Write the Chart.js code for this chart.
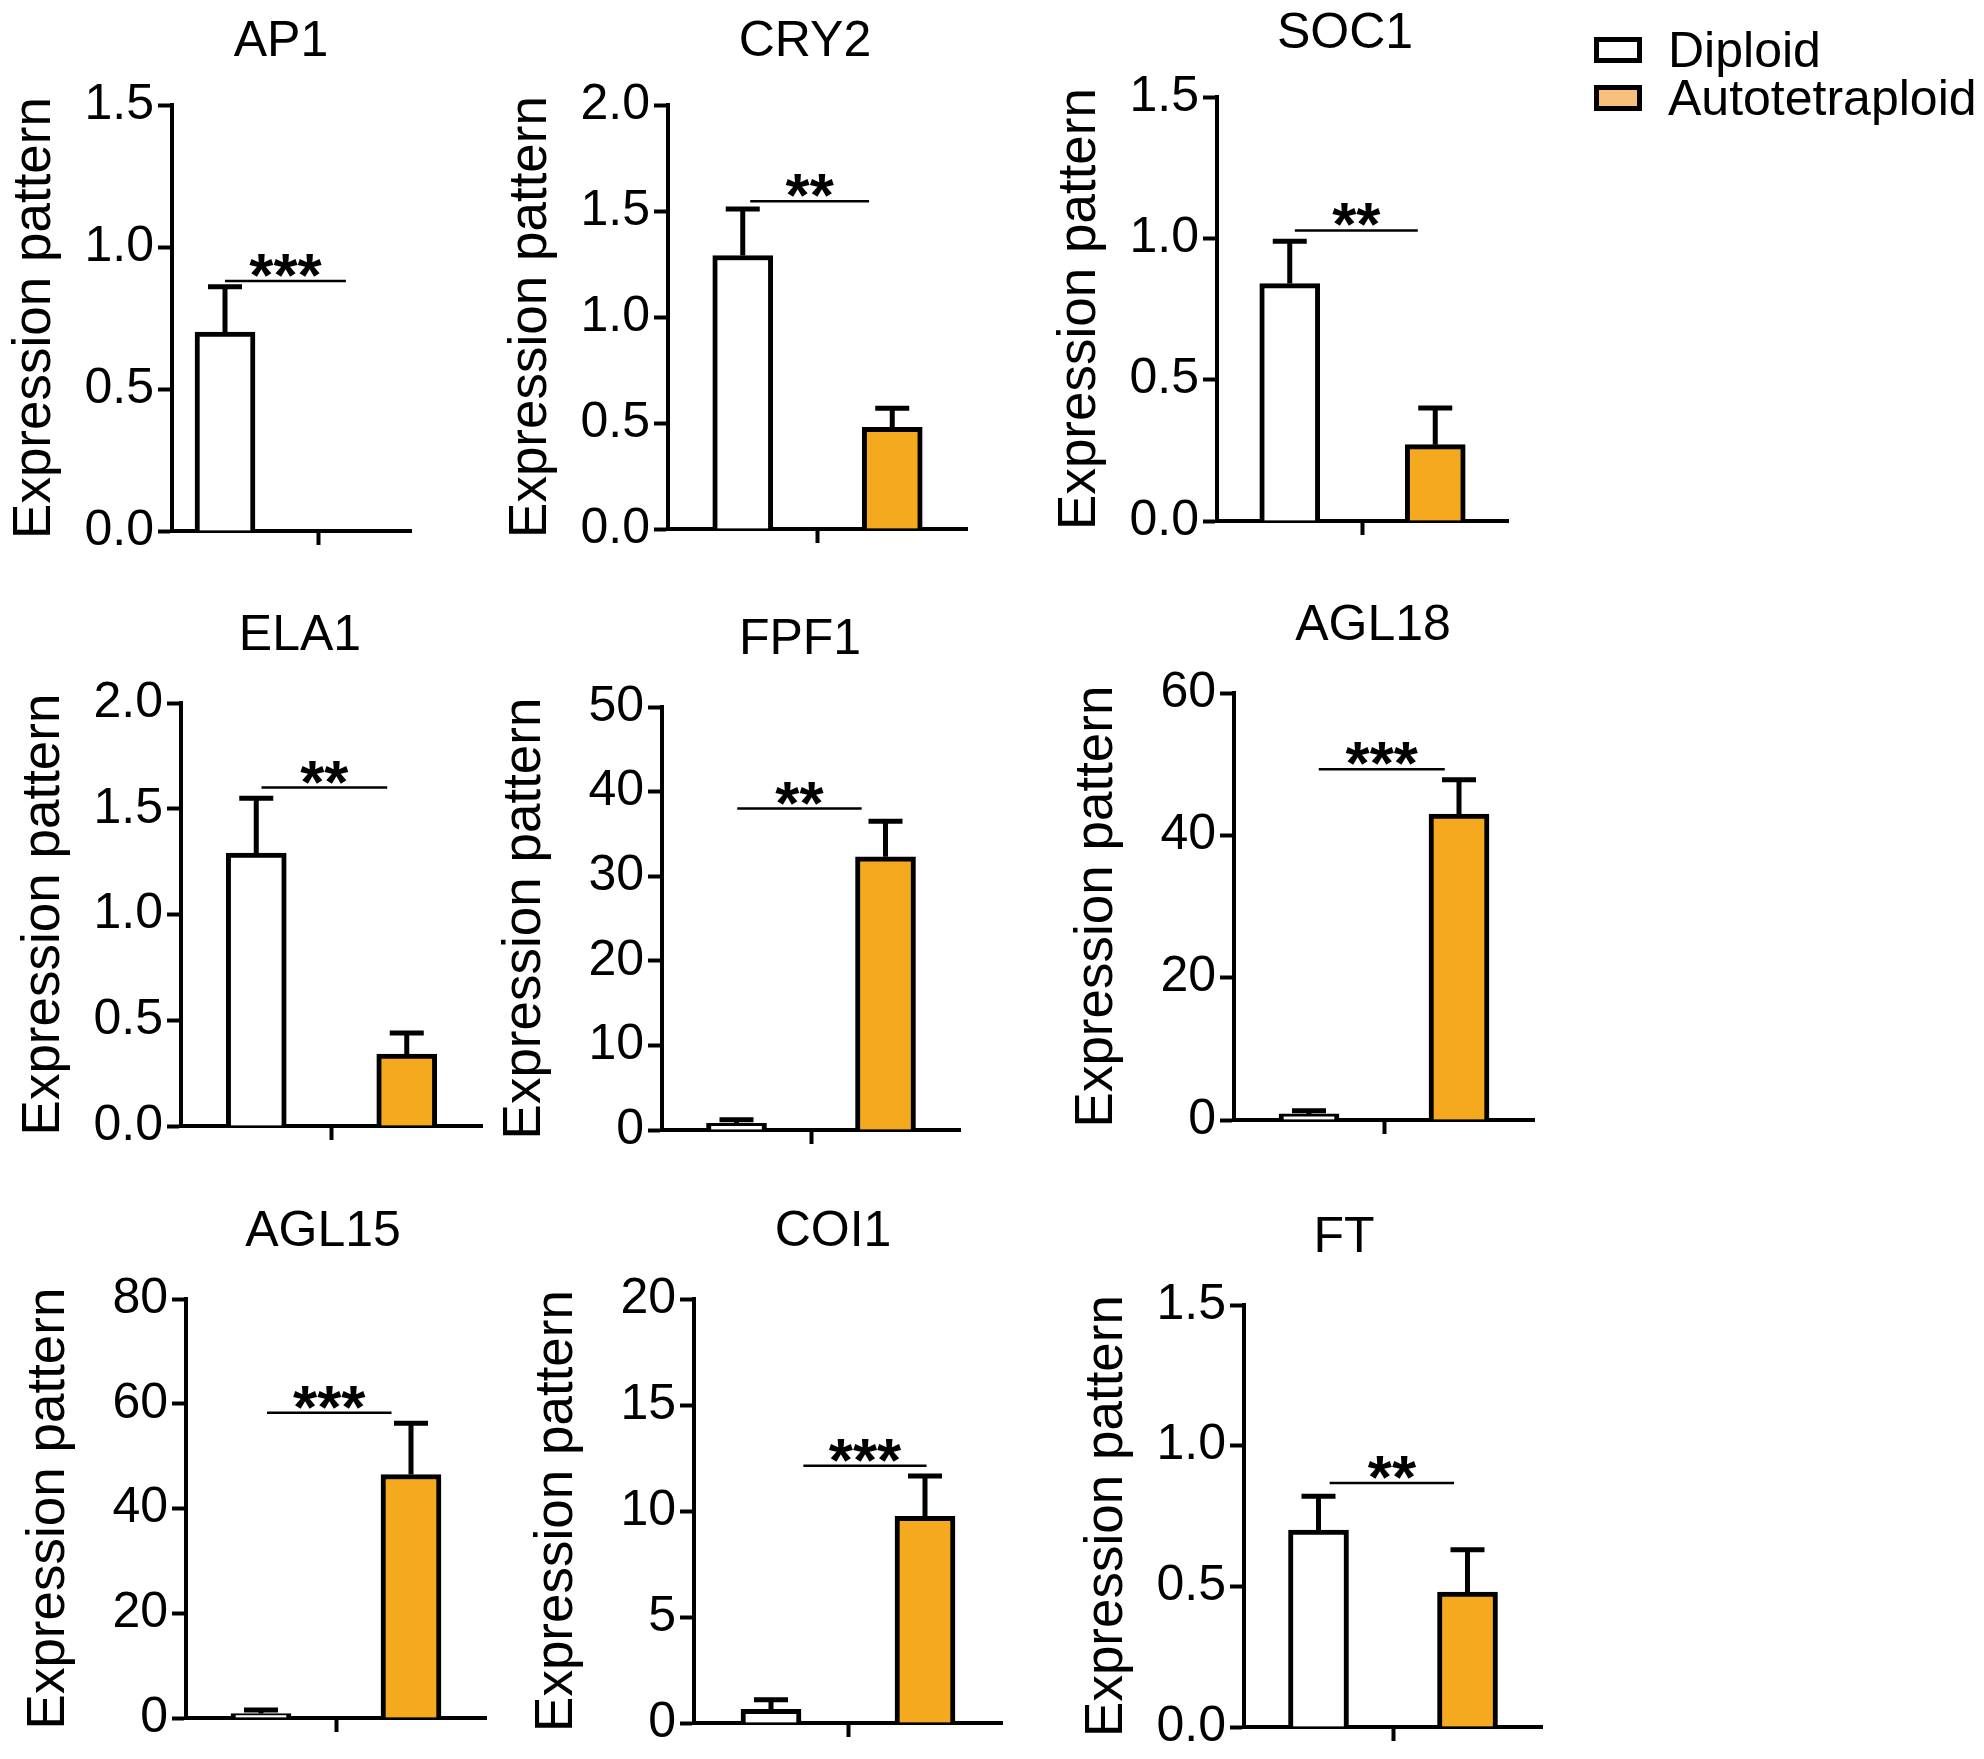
<!DOCTYPE html>
<html>
<head>
<meta charset="utf-8">
<script src="https://cdn.jsdelivr.net/npm/chart.js@4.4.1/dist/chart.umd.min.js"></script>
<style>
    html, body { margin: 0; background: #fff; }
    #fig { position: relative; width: 1984px; height: 1759px; overflow: hidden; font-family: 'Liberation Sans', Arial, sans-serif; }
    #fig canvas { position: absolute; }
    .legend { position: absolute; left: 1594px; top: 26px; font-size: 50px; color: #000; }
    .legend .row { display: flex; align-items: center; height: 48px; line-height: 48px; white-space: nowrap; }
    .legend .box { display: inline-block; width: 48px; height: 26px; border: 5px solid #000; box-sizing: border-box; margin-right: 26px; }
</style>
</head>
<body>
<div id="fig">
    <div class="legend">
        <div class="row"><span class="box" style="background:#fff"></span>Diploid</div>
        <div class="row"><span class="box" style="background:#f9c07c"></span>Autotetraploid</div>
    </div>
</div>
<script>
// --- data ---
const genes = ['AP1', 'CRY2', 'SOC1', 'ELA1', 'FPF1', 'AGL18', 'AGL15', 'COI1', 'FT'];
const groups = ['Diploid', 'Autotetraploid'];
const diploid       = [0.70, 1.29, 0.84, 1.29, 0.8, 0.85, 0.85, 0.65, 0.70];
const diploidErr    = [0.16, 0.22, 0.15, 0.26, 0.4, 0.45, 0.7, 0.45, 0.12];
const tetraploid    = [0, 0.48, 0.27, 0.34, 32.3, 43.0, 46.5, 9.75, 0.48];
const tetraploidErr = [0, 0.09, 0.13, 0.10, 4.2, 4.8, 9.8, 1.9, 0.15];
const stars    = ['***', '**', '**', '**', '**', '***', '***', '***', '**'];
const starY    = [0.88, 1.546, 1.028, 1.6, 38.0, 49.3, 58.3, 12.14, 0.867];
const starFrom = [1.0, 1.1, 1.07, 1.07, 1.01, 1.13, 1.08, 1.42, 1.15];
const starTo   = [2.3, 2.69, 2.76, 2.74, 2.68, 2.81, 2.74, 3.02, 2.82];

// axes
const yMax  = [1.5, 2, 1.5, 2, 50, 60, 80, 20, 1.5];
const yStep = [0.5, 0.5, 0.5, 0.5, 10, 20, 20, 5, 0.5];
const xMin  = [0.43, 0, 0, 0, 0, 0, 0, 0, 0];
const xMax  = [3, 4, 4, 4, 4, 4, 4, 4, 4];
const groupX = [1, 3];   // bar positions on the x scale, tick sits at 2

// plot area on the page: left, right, top, bottom, title centre x, title centre y
const boxes = [
    [172, 411, 105, 531, 281, 42],
    [668, 967, 105, 529, 805, 42],
    [1217, 1508, 97, 521, 1345, 34],
    [181, 482, 703, 1126, 300, 636],
    [662, 960, 707, 1130, 800, 640],
    [1234, 1534, 693, 1120, 1373, 626],
    [186, 486, 1299, 1718, 323, 1232],
    [694, 1002, 1299, 1723, 833, 1232],
    [1244, 1542, 1305, 1727, 1344, 1238]
];

const FONT = "'Liberation Sans', Arial, sans-serif";
const ORANGE = '#f5a91e';
const Y_AXIS_W = 170, X_AXIS_H = 40;

// error bars (up only) + significance bracket
const errorBars = {
    id: 'errorBars',
    afterDatasetsDraw(chart, args, opts) {
        const { ctx, scales: { x, y } } = chart;
        ctx.save();
        ctx.strokeStyle = '#000';
        ctx.lineWidth = 5;
        chart.data.datasets.forEach(ds => {
            ds.data.forEach(p => {
                if (!p.err) return;
                const cx = x.getPixelForValue(p.x);
                const y0 = y.getPixelForValue(p.y);
                const y1 = y.getPixelForValue(p.y + p.err);
                ctx.beginPath();
                ctx.moveTo(cx, y0); ctx.lineTo(cx, y1);
                ctx.moveTo(cx - 17, y1); ctx.lineTo(cx + 17, y1);
                ctx.stroke();
            });
        });

        const x1 = x.getPixelForValue(opts.from), x2 = x.getPixelForValue(opts.to);
        const ly = y.getPixelForValue(opts.y);
        ctx.lineWidth = 2.5;
        ctx.beginPath(); ctx.moveTo(x1, ly); ctx.lineTo(x2, ly); ctx.stroke();

        ctx.font = `bold 62px ${FONT}`;
        ctx.fillStyle = '#000';
        ctx.textAlign = 'center';
        ctx.textBaseline = 'alphabetic';
        const m = ctx.measureText(opts.text);
        ctx.fillText(opts.text, (x1 + x2) / 2, ly - 4 - m.actualBoundingBoxDescent);
        ctx.restore();
    }
};

const fig = document.getElementById('fig');

genes.forEach((gene, i) => {
    const [L, R, T, B, tx, ty] = boxes[i];
    const cLeft = L - Y_AXIS_W, cTop = ty - 30;
    const titleH = T - cTop;
    const cRight = Math.max(2 * tx - cLeft, R + 10);   // canvas centred on the title
    const padR = cRight - R;
    const cv = document.createElement('canvas');
    cv.width = cRight - cLeft;
    cv.height = B + X_AXIS_H - cTop;
    cv.style.left = cLeft + 'px';
    cv.style.top = cTop + 'px';
    fig.appendChild(cv);

    const values = [diploid[i], tetraploid[i]];
    const errs = [diploidErr[i], tetraploidErr[i]];
    const fills = ['#ffffff', ORANGE];

    new Chart(cv, {
        type: 'bar',
        data: {
            datasets: groups.map((g, k) => ({
                label: g,
                data: [{ x: groupX[k], y: values[k], err: errs[k] }],
                backgroundColor: fills[k],
                borderColor: '#000',
                borderWidth: 5,
                barThickness: 60,
                grouped: false
            }))
        },
        options: {
            responsive: false,
            devicePixelRatio: 1,
            animation: false,
            layout: { padding: 0 },
            plugins: {
                legend: { display: false },
                tooltip: { enabled: false },
                title: {
                    display: true, text: gene, fullSize: true, color: '#000',
                    font: { family: FONT, size: 50, weight: 'normal', lineHeight: 1.2 },
                    padding: { top: 0, bottom: titleH - 60 }
                },
                errorBars: { text: stars[i], y: starY[i], from: starFrom[i], to: starTo[i] }
            },
            scales: {
                x: {
                    type: 'linear', min: xMin[i], max: xMax[i], offset: false,
                    afterBuildTicks: s => { s.ticks = [{ value: 2 }]; },
                    ticks: { display: false },
                    grid: { offset: false, drawOnChartArea: false, drawTicks: true, tickLength: 14, tickWidth: 4, tickColor: '#000', color: '#000' },
                    border: { display: true, color: '#000', width: 4 },
                    afterFit: s => { s.height = X_AXIS_H; }
                },
                y: {
                    min: 0, max: yMax[i],
                    ticks: {
                        stepSize: yStep[i], color: '#000', padding: 4,
                        font: { family: FONT, size: 50 },
                        callback: v => yStep[i] < 1 ? v.toFixed(1) : v
                    },
                    grid: { drawOnChartArea: false, drawTicks: true, tickLength: 14, tickWidth: 4, tickColor: '#000', color: '#000' },
                    border: { display: true, color: '#000', width: 4 },
                    title: {
                        display: true, text: 'Expression pattern', color: '#000',
                        font: { family: FONT, size: 53, lineHeight: 1 },
                        padding: { top: 7, bottom: 0 }
                    },
                    afterFit: s => { s.width = Y_AXIS_W; }
                },
                // empty right-hand box so the title centres where the original has it
                pad: {
                    type: 'linear', position: 'right', display: true,
                    ticks: { display: false },
                    grid: { display: false },
                    border: { display: false },
                    afterFit: s => { s.width = padR; }
                }
            }
        },
        plugins: [errorBars]
    });
});
</script>
</body>
</html>
